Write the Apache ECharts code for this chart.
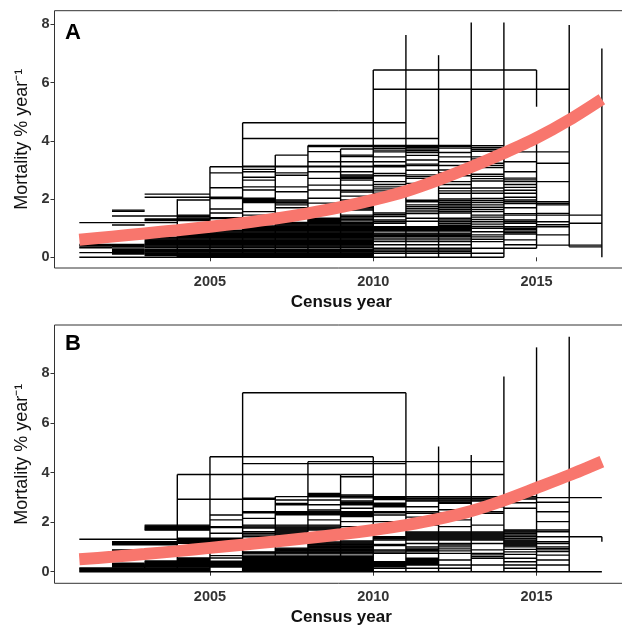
<!DOCTYPE html>
<html>
<head>
<meta charset="utf-8">
<script src="https://cdn.jsdelivr.net/npm/echarts@6/dist/echarts.min.js"></script>
<style>html,body{margin:0;padding:0;background:#fff;}#c{width:622px;height:628px;}</style>
</head>
<body>
<div id="c"></div>
<script>
// ---------- DATA ----------
const curveYears = [2001,2002,2003,2004,2005,2006,2007,2008,2009,2010,2011,2012,2013,2014,2015,2016,2017];
const curveA = [0.60,0.71,0.82,0.93,1.05,1.18,1.33,1.51,1.72,1.97,2.27,2.66,3.10,3.58,4.10,4.72,5.43];
const curveB = [0.50,0.60,0.71,0.83,0.96,1.09,1.22,1.36,1.51,1.68,1.88,2.13,2.45,2.88,3.38,3.89,4.44];

const xTicks = [2005, 2010, 2015];
const yTicksA = [0, 2, 4, 6, 8];
const yTicksB = [0, 2, 4, 6, 8];

// interval mortality: [start census, end census, [values]]
const intervalsA = [
  [2010,2015,[6.43]],
  [2010,2016,[5.77]],
  [2006,2011,[4.62]],
  [2006,2012,[4.08]],
  [2008,2013,[3.84,3.80]],
  [2007,2008,[3.51]],
  [2005,2011,[3.11]],
  [2001,2004,[1.19]],
  [2001,2014,[0.0]],
  [2002,2005,[1.42]],
  [2001,2002,[0.16,0.33,0.36,0.40,0.44]],
  [2002,2003,[1.62,1.58,1.11,0.11,0.14,0.17,0.20,0.23,0.26,0.29,0.35,0.38,0.41,0.44]],
  [2003,2005,[2.17,2.06,1.32,1.29,1.26]],
  [2004,2005,[1.97,1.45,1.40,1.35]],
  [2005,2006,[2.90,2.39,2.06,2.02,1.66,1.52,1.36,1.33]],
  [2006,2007,[3.13,3.02,2.94,2.75,2.65,2.42,2.31,2.03,1.98,1.94,1.91,1.88,1.57,1.45,1.30]],
  [2007,2008,[3.13,2.90,2.82,2.42,2.25,1.97,1.93,1.89,1.86,1.80,1.70,1.51,1.40]],
  [2008,2009,[3.63,3.28,3.13,2.94,2.71,2.48,2.31,2.03,1.86,1.60,1.34,1.30,1.26,1.22]],
  [2009,2010,[3.72,3.51,3.46,3.28,3.13,2.94,2.83,2.79,2.75,2.70,2.65,2.48,2.30,2.24,2.10,1.97,1.80,1.75,1.70,1.66,1.62,1.45,1.40,1.35,1.30,1.25]],
  [2003,2010,[0.06,0.09,0.12,0.15,0.18,0.21,0.24,0.27,0.33,0.36,0.39,0.42,0.45,0.48,0.51,0.54,0.57,0.60,0.63,0.66,0.69]],
  [2004,2010,[0.02,0.72,0.75,0.78,0.81]],
  [2005,2010,[0.84,0.87,0.90,0.93]],
  [2006,2010,[0.96,0.99,1.02,1.05,1.08]],
  [2007,2010,[1.11,1.14,1.17,1.20]],
  [2010,2011,[3.80,3.74,3.68,3.62,3.45,3.28,3.15,2.88,2.80,2.60,2.50,2.42,2.35,2.28,2.20,1.52,1.46,1.40,1.28,1.22,1.17]],
  [2011,2012,[3.83,3.78,3.72,3.66,3.60,3.50,3.34,3.20,3.15,2.99,2.83,2.77,2.71,2.54,1.96,1.91,1.80,1.74,1.68,1.62,1.56,1.50,1.34,1.24]],
  [2012,2013,[3.75,3.60,3.45,3.28,3.15,3.00,2.90,2.80,2.60,2.50,2.37,2.28,2.20,2.00,1.94,1.88,1.82,1.76,1.70,1.64,1.58,1.52,1.34,1.28,1.22,1.16,1.10,1.04,0.98]],
  [2010,2013,[0.14,0.20,0.25,0.31,0.43,0.54,0.60,0.66,0.71,0.74,0.77,0.80,0.83,0.90,0.93,0.96,0.99,1.02,1.05]],
  [2013,2014,[3.83,3.76,3.70,3.64,3.45,3.38,3.23,3.15,3.08,2.85,2.78,2.70,2.62,2.38,2.28,2.20,2.02,1.95,1.88,1.80,1.72,1.64,1.57,1.45,1.38,1.30,1.22,1.14,1.06,1.00,0.88,0.77,0.70,0.62,0.54,0.31,0.14]],
  [2014,2015,[3.62,3.28,2.94,2.72,2.66,2.60,2.50,2.40,2.30,2.20,2.06,1.97,1.91,1.85,1.70,1.50,1.45,1.28,1.22,1.17,1.05,1.00,0.95,0.90,0.85,0.80,0.60,0.43,0.31]],
  [2015,2016,[3.62,3.23,2.60,1.91,1.85,1.80,1.51,1.45,1.22,1.12,1.05,0.77,0.42]],
  [2016,2017,[1.45,1.17,0.42,0.36]]
];
// census steps: [census year, low, high]
const stepsA = [
  [2004,0,1.99],[2005,0,3.11],[2006,0,4.62],[2007,0,3.51],[2008,0,3.84],[2009,0,3.72],
  [2010,0,6.43],[2011,0,7.63],[2012,0,6.94],[2013,0,8.06],[2014,0,8.06],
  [2015,5.17,6.43],[2015,0.31,4.30],[2016,0.36,7.98],[2017,0,7.17]
];

const intervalsB = [
  [2006,2011,[7.22,4.36]],
  [2005,2010,[4.64]],
  [2008,2014,[4.44]],
  [2004,2009,[3.92]],
  [2009,2014,[3.92]],
  [2004,2007,[2.92]],
  [2007,2011,[3.03]],
  [2015,2017,[2.99]],
  [2016,2017,[1.41]],
  [2001,2004,[1.31]],
  [2001,2017,[0.0]],
  [2001,2005,[0.04,0.08,0.12,0.15]],
  [2002,2004,[1.09,1.12,1.15,1.18,1.21]],
  [2002,2003,[0.19,0.22,0.25,0.28,0.31,0.34,0.80,0.83,0.86,0.88]],
  [2003,2004,[0.19,0.22,0.25,0.28,0.31,0.34,0.37,0.40,0.43]],
  [2003,2005,[1.88,1.85,1.82,1.79,1.76,1.73,1.70,1.68]],
  [2004,2006,[1.15,1.18,1.21,1.24,1.27,1.30,1.33,1.35]],
  [2004,2005,[0.98,0.19,0.22,0.25,0.28,0.31,0.34,0.37,0.40,0.43,0.46,0.49,0.52,0.55]],
  [2005,2006,[2.29,2.09,1.82,1.78,1.55,0.65,0.55,0.42,0.19,0.22,0.25,0.28,0.31,0.34,0.37,0.40]],
  [2006,2010,[0.04,0.07,0.10,0.13,0.16,0.19,0.22,0.25,0.28,0.31,0.34,0.37,0.40,0.43,0.46,0.49,0.52,0.55,0.58,0.61,0.64,0.72,0.75,0.78,0.80]],
  [2007,2010,[0.83,0.86,0.89,0.92,0.95]],
  [2008,2010,[0.98,1.01,1.04,1.07,1.10,1.12]],
  [2006,2007,[2.96,2.42,2.38,2.15,1.88,1.84,1.80,1.76,1.61,1.55,1.48,1.41]],
  [2007,2008,[2.89,2.75,2.70,2.42,2.38,2.34,2.30,1.88,1.84,1.80,1.76,1.72,1.68,1.64,1.60,1.56,1.52,1.48]],
  [2008,2009,[3.16,3.12,3.08,3.03,2.89,2.70,2.49,2.42,2.38,2.34,2.30,2.09,1.88,1.84,1.80,1.76,1.72,1.68,1.20,1.16]],
  [2009,2010,[3.83,3.10,3.06,3.02,2.98,2.85,2.80,2.75,2.70,2.56,2.42,2.38,2.34,2.30,2.26,2.22,2.02,1.82,1.60,1.16,1.20,1.24]],
  [2010,2011,[2.99,2.95,2.91,2.76,2.72,2.67,2.62,2.42,2.38,2.29,2.02,1.88,1.84,1.80,1.75,1.41,1.37,1.33,1.28,1.10,1.05,0.88,0.84,0.79,0.74,0.40,0.36,0.32,0.28,0.24,0.20,0.14]],
  [2011,2012,[3.03,2.98,2.94,2.89,2.85,2.62,2.42,2.36,2.20,1.88,1.60,1.56,1.52,1.48,1.44,1.40,1.36,1.32,1.28,1.14,1.00,0.95,0.90,0.85,0.80,0.74,0.54,0.50,0.46,0.42,0.38,0.34,0.30,0.27,0.14]],
  [2012,2013,[3.03,2.98,2.94,2.89,2.85,2.80,2.76,2.50,2.36,2.09,1.82,1.60,1.56,1.52,1.48,1.44,1.40,1.36,1.32,1.28,1.14,1.08,1.00,0.92,0.84,0.74,0.47,0.27,0.14]],
  [2013,2014,[3.03,2.98,2.94,2.89,2.85,2.62,2.42,2.36,1.88,1.60,1.56,1.52,1.48,1.44,1.40,1.36,1.32,1.28,1.14,0.88,0.74,0.68,0.61,0.54,0.27]],
  [2014,2015,[3.03,2.98,2.93,2.78,2.56,1.68,1.64,1.60,1.55,1.48,1.42,1.35,1.28,1.24,1.20,1.16,1.12,1.08,1.04,1.00,0.90,0.80,0.70,0.54,0.40,0.27,0.14]],
  [2015,2016,[2.80,2.42,2.02,1.68,1.61,1.41,1.21,1.14,1.00,0.94,0.88,0.81,0.67,0.47,0.27]]
];
const stepsB = [
  [2003,0,0.30],[2004,0,3.92],[2005,0,4.64],[2006,0,7.22],[2007,0,3.03],[2008,0,4.44],
  [2009,0,3.92],[2010,0,4.64],[2011,0,7.22],[2012,0,5.05],[2013,0,4.71],[2014,0,7.87],
  [2015,0,9.05],[2016,0,9.48],[2017,1.21,1.41]
];

// ---------- CHART ----------
const FONT = '"Liberation Sans", Arial, sans-serif';
function segData(intervals, steps) {
  const d = [];
  intervals.forEach(([x0, x1, vals]) => vals.forEach(v => d.push([x0, x1, v, v])));
  steps.forEach(([x, y0, y1]) => d.push([x, x, y0, y1]));
  return d;
}
function segSeries(intervals, steps, idx) {
  return {
    type: 'custom', xAxisIndex: idx, yAxisIndex: idx, silent: true, z: 2,
    data: segData(intervals, steps),
    encode: { x: [0, 1], y: [2, 3] },
    renderItem: (params, api) => {
      const p0 = api.coord([api.value(0), api.value(2)]);
      const p1 = api.coord([api.value(1), api.value(3)]);
      return { type: 'line', shape: { x1: p0[0], y1: p0[1], x2: p1[0], y2: p1[1] },
               style: { stroke: '#000', lineWidth: 1.4 } };
    }
  };
}
function curveSeries(vals, idx) {
  return {
    type: 'line', xAxisIndex: idx, yAxisIndex: idx, z: 5, silent: true,
    data: curveYears.map((y, i) => [y, vals[i]]),
    showSymbol: false, smooth: 0.3,
    lineStyle: { color: '#F8766D', width: 12, cap: 'butt' }
  };
}
function xAxis(idx) {
  return {
    type: 'value', gridIndex: idx, min: 2000.24, max: 2017.8,
    name: 'Census year', nameLocation: 'middle', nameGap: 26,
    nameTextStyle: { fontFamily: FONT, fontWeight: 'bold', fontSize: 17, color: '#111' },
    axisLine: { show: false }, splitLine: { show: false },
    axisTick: { show: true, length: 4, lineStyle: { color: '#333' }, customValues: xTicks },
    axisLabel: { customValues: xTicks, formatter: v => String(Math.round(v)), fontFamily: FONT, fontWeight: 'bold', fontSize: 14.5, color: '#333', margin: 6 }
  };
}
function yAxis(idx, mn, mx, ticks) {
  return {
    type: 'value', gridIndex: idx, min: mn, max: mx,
    name: 'Mortality % year\u207B\u00B9', nameLocation: 'middle', nameGap: 21, nameRotate: 90,
    nameTextStyle: { fontFamily: FONT, fontSize: 18, color: '#111' },
    axisLine: { show: false }, splitLine: { show: false },
    axisTick: { show: true, length: 4, lineStyle: { color: '#333' }, customValues: ticks },
    axisLabel: { customValues: ticks, formatter: v => String(Math.round(v)), fontFamily: FONT, fontWeight: 'bold', fontSize: 14.5, color: '#333', margin: 5 }
  };
}
const chart = echarts.init(document.getElementById('c'), null, { renderer: 'canvas' });
chart.setOption({
  animation: false,
  backgroundColor: '#fff',
  grid: [
    { left: 54.5, top: 10.7, width: 573.5, height: 257.3, show: true, borderColor: '#333', borderWidth: 1, backgroundColor: 'transparent', containLabel: false, outerBoundsMode: 'none' },
    { left: 54.5, top: 325, width: 573.5, height: 258.3, show: true, borderColor: '#333', borderWidth: 1, backgroundColor: 'transparent', containLabel: false, outerBoundsMode: 'none' }
  ],
  xAxis: [xAxis(0), xAxis(1)],
  yAxis: [yAxis(0, -0.367, 8.467, yTicksA), yAxis(1, -0.468, 9.952, yTicksB)],
  graphic: [
    { type: 'text', left: 65, top: 22, style: { text: 'A', font: 'bold 22px ' + FONT, fill: '#000' } },
    { type: 'text', left: 65, top: 333, style: { text: 'B', font: 'bold 22px ' + FONT, fill: '#000' } }
  ],
  series: [
    segSeries(intervalsA, stepsA, 0), curveSeries(curveA, 0),
    segSeries(intervalsB, stepsB, 1), curveSeries(curveB, 1)
  ]
});
</script>
</body>
</html>
